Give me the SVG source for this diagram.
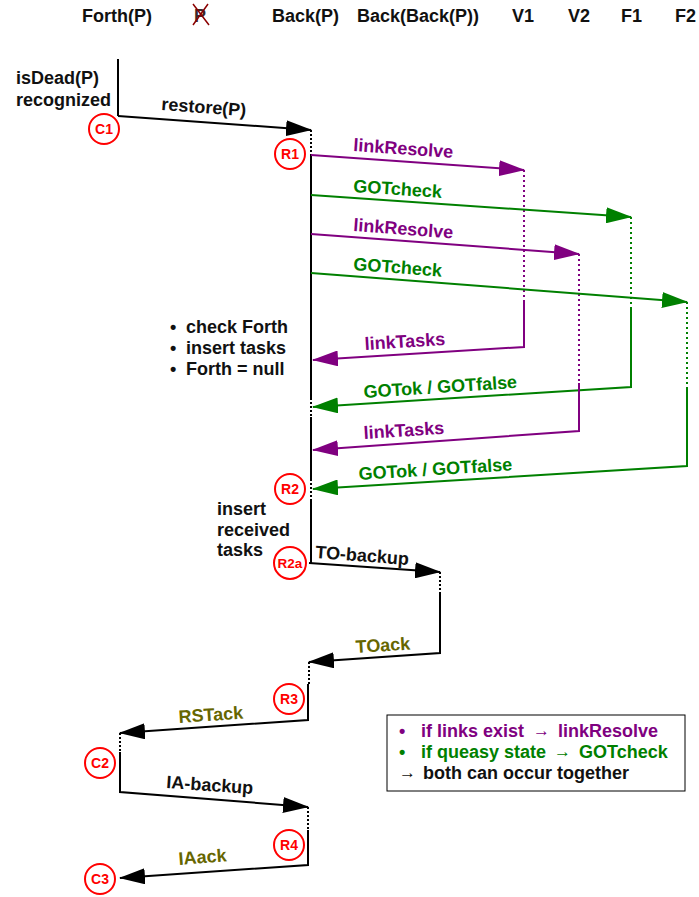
<svg xmlns="http://www.w3.org/2000/svg" width="699" height="897" viewBox="0 0 699 897">
<style>
text{font-family:"Liberation Sans",Arial,sans-serif;font-weight:bold;font-size:18px;fill:#111}
.hdr{font-size:18px}
.pu{fill:#800080}.gr{fill:#008000}.ol{fill:#666600}
.ll{fill:none;stroke:#000;stroke-width:2}
.dot{fill:none;stroke:#000;stroke-width:2;stroke-dasharray:2 2}
.dotp{fill:none;stroke:#800080;stroke-width:2;stroke-dasharray:2 3}
.dotg{fill:none;stroke:#008000;stroke-width:2;stroke-dasharray:2 3}
.mk{fill:none;stroke:#000;stroke-width:2;marker-end:url(#ab)}
.mp{fill:none;stroke:#800080;stroke-width:2;marker-end:url(#ap)}
.mg{fill:none;stroke:#008000;stroke-width:2;marker-end:url(#ag)}
.st circle{fill:#fff;stroke:#f00;stroke-width:2}
.st text{fill:#f00;font-size:14px;text-anchor:middle}
.arr{font-weight:normal;font-size:17px}
</style>
<defs>
<marker id="ab" markerUnits="userSpaceOnUse" viewBox="0 0 26 16" refX="25" refY="8" markerWidth="26" markerHeight="16" orient="auto"><path d="M0,0L26,8L0,16Z" fill="#000"/></marker>
<marker id="ap" markerUnits="userSpaceOnUse" viewBox="0 0 26 16" refX="25" refY="8" markerWidth="26" markerHeight="16" orient="auto"><path d="M0,0L26,8L0,16Z" fill="#800080"/></marker>
<marker id="ag" markerUnits="userSpaceOnUse" viewBox="0 0 26 16" refX="25" refY="8" markerWidth="26" markerHeight="16" orient="auto"><path d="M0,0L26,8L0,16Z" fill="#008000"/></marker>
</defs>
<rect width="699" height="897" fill="#fff"/>

<g id="headers">
<text class="hdr" x="82" y="22">Forth(P)</text>
<g id="crossedP"><text class="hdr" x="194" y="22" style="fill:#3a2a2a">P</text>
<path d="M193,4L209,25M208,4L193,25" stroke="#8b0000" stroke-width="1.5" fill="none"/></g>
<text class="hdr" x="272" y="22">Back(P)</text>
<text class="hdr" x="357" y="22">Back(Back(P))</text>
<text class="hdr" x="512" y="22">V1</text>
<text class="hdr" x="568" y="22">V2</text>
<text class="hdr" x="621" y="22">F1</text>
<text class="hdr" x="675" y="22">F2</text>
</g>

<g id="lifelines">
<path class="ll" d="M118,59V116"/>
<path class="dot" d="M311,130V155"/>
<path class="ll" d="M311,155V398"/>
<path class="dot" d="M311,398V417"/>
<path class="ll" d="M311,417V479"/>
<path class="dot" d="M311,479V500"/>
<path class="ll" d="M311,500V563"/>
<path class="dot" d="M440,572V592"/>
<path class="dot" d="M309,662V684"/>
<path class="dot" d="M120,733V752"/>
<path class="dot" d="M308,807V830"/>
<path class="dotp" d="M524,170V300"/>
<path class="dotg" d="M631,217V307"/>
<path class="dotp" d="M579,254V383"/>
<path class="dotg" d="M687,302V387"/>
</g>

<g id="connectors">
<path class="mk" d="M118,116L311,130"/>
<path class="mp" d="M311,155L524,170"/>
<path class="mg" d="M311,195L631,217"/>
<path class="mp" d="M311,234L579,254"/>
<path class="mg" d="M311,273L687,302"/>
<path class="mp" d="M524,300V347L313,360"/>
<path class="mg" d="M631,307V387L313,407"/>
<path class="mp" d="M579,383V431L313,450"/>
<path class="mg" d="M687,387V466L313,489"/>
<path class="mk" d="M309,563L440,572"/>
<path class="mk" d="M440,592V653L309,662"/>
<path class="mk" d="M308,684V720L120,733"/>
<path class="mk" d="M120,752V792L308,807"/>
<path class="mk" d="M308,830V865L120,878"/>
</g>

<g id="labels">
<text x="161" y="110" transform="rotate(4.2 161 110)">restore(P)</text>
<text class="pu" x="353" y="151" transform="rotate(4 353 151)">linkResolve</text>
<text class="gr" x="353" y="192" transform="rotate(3.8 353 192)">GOTcheck</text>
<text class="pu" x="353" y="231" transform="rotate(4.3 353 231)">linkResolve</text>
<text class="gr" x="353" y="270" transform="rotate(4.3 353 270)">GOTcheck</text>
<text class="pu" x="365" y="350" transform="rotate(-3.6 365 350)">linkTasks</text>
<text class="gr" x="364" y="398" transform="rotate(-3.8 364 398)">GOTok / GOTfalse</text>
<text class="pu" x="364" y="439" transform="rotate(-3.7 364 439)">linkTasks</text>
<text class="gr" x="359" y="480" transform="rotate(-3.6 359 480)">GOTok / GOTfalse</text>
<text x="315" y="558" transform="rotate(4.3 315 558)">TO-backup</text>
<text class="ol" x="356" y="653" transform="rotate(-3.6 356 653)">TOack</text>
<text class="ol" x="179" y="723" transform="rotate(-3.9 179 723)">RSTack</text>
<text x="166" y="788" transform="rotate(4 166 788)">IA-backup</text>
<text class="ol" x="179" y="865" transform="rotate(-4.5 179 865)">IAack</text>
</g>

<g id="notes">
<text x="16" y="84">isDead(P)</text>
<text x="16" y="106">recognized</text>
<text x="170" y="333">•</text><text x="186" y="333">check Forth</text>
<text x="170" y="354">•</text><text x="186" y="354">insert tasks</text>
<text x="170" y="375">•</text><text x="186" y="375">Forth = null</text>
<text x="217" y="515">insert</text>
<text x="217" y="536">received</text>
<text x="217" y="556">tasks</text>
</g>

<g id="C1" class="st"><circle cx="104" cy="129" r="15"/><text x="104" y="134">C1</text></g>
<g id="R1" class="st"><circle cx="290" cy="154" r="15"/><text x="290" y="159">R1</text></g>
<g id="R2" class="st"><circle cx="290" cy="489" r="15"/><text x="290" y="494">R2</text></g>
<g id="R2a" class="st"><circle cx="290" cy="563" r="16"/><text x="290" y="568" style="font-size:13.5px">R2a</text></g>
<g id="R3" class="st"><circle cx="289" cy="699" r="15"/><text x="289" y="704">R3</text></g>
<g id="C2" class="st"><circle cx="100" cy="763" r="15"/><text x="100" y="768">C2</text></g>
<g id="R4" class="st"><circle cx="289" cy="845" r="15"/><text x="289" y="850">R4</text></g>
<g id="C3" class="st"><circle cx="100" cy="879" r="15"/><text x="100" y="884">C3</text></g>

<g id="legend">
<rect x="387" y="715" width="298" height="76" fill="#fff" stroke="#000" stroke-width="1"/>
<text class="pu" x="399" y="737">•</text>
<text class="pu" x="421" y="737">if links exist</text>
<text class="pu arr" x="533" y="736">→</text>
<text class="pu" x="558" y="737">linkResolve</text>
<text class="gr" x="399" y="758">•</text>
<text class="gr" x="421" y="758">if queasy state</text>
<text class="gr arr" x="554" y="757">→</text>
<text class="gr" x="579" y="758">GOTcheck</text>
<text class="arr" x="399" y="778">→</text>
<text x="423" y="779">both can occur together</text>
</g>
</svg>
